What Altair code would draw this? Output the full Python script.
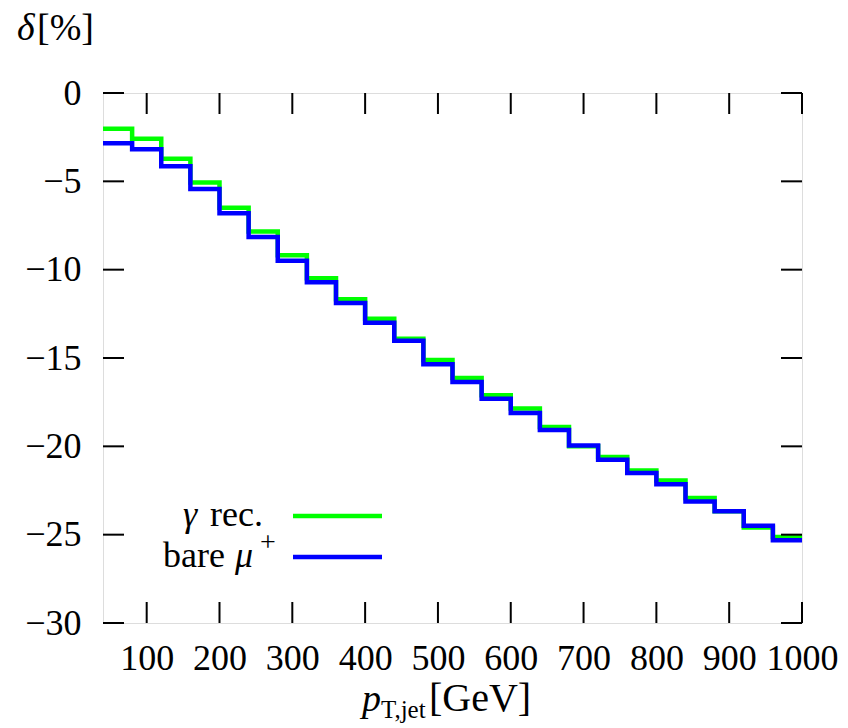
import altair as alt
import pandas as pd

# ---- data ----
bin_edges = [40, 80, 120, 160, 200, 240, 280, 320, 360, 400, 440, 480, 520,
             560, 600, 640, 680, 720, 760, 800, 840, 880, 920, 960, 1000]
gamma_rec = [-2.02, -2.59, -3.72, -5.06, -6.49, -7.84, -9.18, -10.48, -11.68,
             -12.78, -13.91, -15.11, -16.13, -17.11, -17.86, -18.90, -20.00,
             -20.61, -21.37, -21.93, -22.93, -23.68, -24.59, -25.13]
bare_mu = [-2.84, -3.18, -4.15, -5.44, -6.81, -8.15, -9.50, -10.71, -11.88,
           -13.01, -14.02, -15.36, -16.36, -17.30, -18.12, -19.07, -19.95,
           -20.76, -21.51, -22.14, -23.12, -23.68, -24.49, -25.32]
x_ticks = [100, 200, 300, 400, 500, 600, 700, 800, 900, 1000]
y_ticks = [0, -5, -10, -15, -20, -25, -30]

FONT = "Liberation Serif"
W, H = 699, 530
TL = 21  # inward tick length


def step_rows(name, vals):
    rows = [{"series": name, "x": bin_edges[i], "y": v} for i, v in enumerate(vals)]
    rows.append({"series": name, "x": bin_edges[-1], "y": vals[-1]})
    return rows


df = pd.DataFrame(step_rows("gamma", gamma_rec) + step_rows("bare", bare_mu))

xscale = alt.Scale(domain=[40, 1000], nice=False, zero=False)
yscale = alt.Scale(domain=[-30, 0], nice=False, zero=False)

xaxis = alt.Axis(values=x_ticks, format="d", labelFont=FONT, labelFontSize=36,
                 labelColor="black", ticks=False, tickSize=0, domain=False, grid=False,
                 labelPadding=18, labelFlush=False, labelOverlap=False, title=None)
yaxis = alt.Axis(values=y_ticks, format="d", labelFont=FONT, labelFontSize=36,
                 labelColor="black", ticks=False, tickSize=0, domain=False, grid=False,
                 labelPadding=22, labelBaseline="middle", labelFlush=False,
                 labelOverlap=False, title=None)

base = alt.Chart(df)

green = base.transform_filter(alt.datum.series == "gamma").mark_line(
    interpolate="step-after", strokeWidth=4.5, color="#00ff00", clip=True
).encode(x=alt.X("x:Q", scale=xscale, axis=xaxis), y=alt.Y("y:Q", scale=yscale, axis=yaxis))

blue = base.transform_filter(alt.datum.series == "bare").mark_line(
    interpolate="step-after", strokeWidth=4.5, color="#0000ff", clip=True
).encode(x=alt.X("x:Q", scale=xscale), y=alt.Y("y:Q", scale=yscale))

# inward ticks on all four sides
xt = alt.Chart(pd.DataFrame({"v": x_ticks}))
yt = alt.Chart(pd.DataFrame({"v": y_ticks}))
tick_bottom = xt.mark_rule(color="black", strokeWidth=2).encode(
    x=alt.X("v:Q", scale=xscale), y=alt.value(H), y2=alt.value(H - TL))
tick_top = xt.mark_rule(color="black", strokeWidth=2).encode(
    x=alt.X("v:Q", scale=xscale), y=alt.value(0), y2=alt.value(TL))
tick_left = yt.mark_rule(color="black", strokeWidth=2).encode(
    y=alt.Y("v:Q", scale=yscale), x=alt.value(0), x2=alt.value(TL))
tick_right = yt.mark_rule(color="black", strokeWidth=2).encode(
    y=alt.Y("v:Q", scale=yscale), x=alt.value(W), x2=alt.value(W - TL))

one = alt.Chart(pd.DataFrame({"a": [0]}))


def txt(s, x, y, size=34, italic=False, align="left"):
    return one.mark_text(text=s, font=FONT, fontSize=size, color="black",
                         fontStyle="italic" if italic else "normal",
                         align=align, baseline="alphabetic").encode(
        x=alt.value(x), y=alt.value(y))


# legend
leg_green = one.mark_rule(color="#00ff00", strokeWidth=4.5).encode(
    x=alt.value(190), x2=alt.value(279), y=alt.value(423))
leg_blue = one.mark_rule(color="#0000ff", strokeWidth=4.5).encode(
    x=alt.value(190), x2=alt.value(279), y=alt.value(464))
leg_texts = [
    txt("γ", 80, 433, size=36, italic=True),
    txt("rec.", 160, 433, size=36, align="right"),
    txt("bare", 60, 474, size=36),
    txt("μ", 132, 474, size=36, italic=True),
    txt("+", 157, 458, size=28),
]

# axis titles
titles = [
    txt("δ", -86, -53, size=38, italic=True),
    txt("[%]", -66, -53, size=38),
    txt("p", 259, 618, size=38, italic=True),
    txt("T,jet", 278, 625, size=25),
    txt("[GeV]", 326, 618, size=40),
]

chart = alt.layer(
    green, blue, tick_bottom, tick_top, tick_left, tick_right,
    leg_green, leg_blue, *leg_texts, *titles
).properties(
    width=W, height=H,
    autosize=alt.AutoSizeParams(type="none"),
    padding={"left": 103, "top": 93, "right": 46, "bottom": 105},
).configure_view(stroke="black", strokeWidth=3).configure(background="white")

chart.save("out.html", embed_options={"renderer": "svg", "actions": False})
